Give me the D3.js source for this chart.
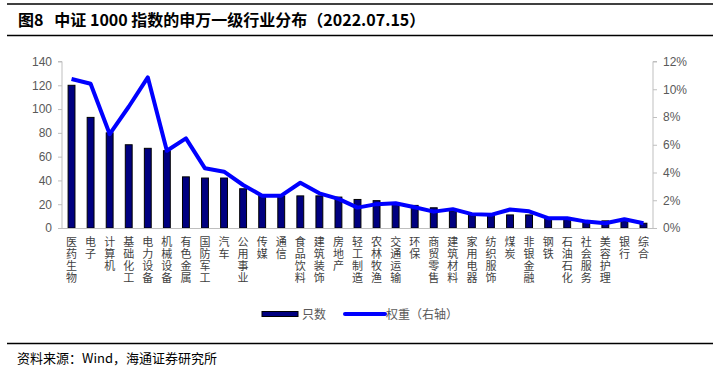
<!DOCTYPE html>
<html>
<head>
<meta charset="utf-8">
<script src="https://cdn.jsdelivr.net/npm/d3@7/dist/d3.min.js"></script>
<style>
  html, body { margin: 0; padding: 0; background: #fff; }
  svg { display: block; }
  .vlab { writing-mode: vertical-rl; text-orientation: upright; }
</style>
</head>
<body>
<svg id="chart" width="717" height="372"></svg>
<script>
const categories = ["医药生物","电子","计算机","基础化工","电力设备","机械设备","有色金属","国防军工","汽车","公用事业","传媒","通信","食品饮料","建筑装饰","房地产","轻工制造","农林牧渔","交通运输","环保","商贸零售","建筑材料","家用电器","纺织服饰","煤炭","非银金融","钢铁","石油石化","社会服务","美容护理","银行","综合"];
const counts = [120,93,80,70,67,65,43,42,42,33,27,27,27,27,26,24,23,21,19,17,14,11,11,11,11,8,7,6,6,6,4];
const weights = [10.74,10.4,6.77,8.74,10.86,5.57,6.46,4.3,4.06,3.1,2.33,2.33,3.26,2.5,2.1,1.47,1.72,1.78,1.5,1.18,1.36,1.0,0.95,1.33,1.2,0.71,0.7,0.46,0.34,0.63,0.34];
const leftTicks = [0,20,40,60,80,100,120,140];
const rightTicks = [0,2,4,6,8,10,12];
const titleText = "图8   中证 1000 指数的申万一级行业分布（2022.07.15）";
const sourceText = "资料来源：Wind，海通证券研究所";
const legendLabels = ["只数", "权重（右轴）"];

const svg = d3.select("#chart");
const plotL = 62, plotR = 653, plotB = 228, plotT = 61.5;

const x = d3.scaleBand().domain(categories).range([plotL, plotR]).paddingInner(0.64).paddingOuter(0.32);
const yL = d3.scaleLinear().domain([0, 140]).range([plotB, plotT]);
const yR = d3.scaleLinear().domain([0, 12]).range([plotB, plotT]);

const axisColor = "#bfbfbf";
const labelColor = "#595959";
const sansFont = "Liberation Sans, Arial, sans-serif";
const cjkFont = "'Noto Sans CJK SC', sans-serif";

// Header lines and title
svg.append("line").attr("x1", 7).attr("x2", 713).attr("y1", 4).attr("y2", 4).attr("stroke", "#000").attr("stroke-width", 1.3);
svg.append("line").attr("x1", 7).attr("x2", 713).attr("y1", 35.5).attr("y2", 35.5).attr("stroke", "#000").attr("stroke-width", 1.3);
svg.append("text").attr("x", 18).attr("y", 25.5).attr("font-family", cjkFont)
  .attr("font-weight", "bold").attr("font-size", 16).attr("fill", "#000").attr("xml:space", "preserve").text(titleText);

// Left axis
const gL = svg.append("g").attr("transform", `translate(${plotL},0)`)
  .call(d3.axisLeft(yL).tickValues(leftTicks).tickSize(4).tickPadding(6));
gL.select(".domain").attr("stroke", axisColor).attr("d", `M-4,${yL(140)}H0V${plotB}`);
gL.selectAll(".tick line").attr("stroke", axisColor);
gL.selectAll(".tick text").attr("fill", labelColor).attr("font-size", 12).attr("font-family", sansFont);

// Right axis
const gR = svg.append("g").attr("transform", `translate(${plotR},0)`)
  .call(d3.axisRight(yR).tickValues(rightTicks).tickFormat(d => d + "%").tickSize(4).tickPadding(6));
gR.select(".domain").attr("stroke", axisColor).attr("d", `M4,${yR(12)}H0V${plotB}`);
gR.selectAll(".tick line").attr("stroke", axisColor);
gR.selectAll(".tick text").attr("fill", labelColor).attr("font-size", 12).attr("font-family", sansFont);

// Bars
svg.append("g").selectAll("rect").data(categories).join("rect")
  .attr("x", d => x(d))
  .attr("width", x.bandwidth())
  .attr("y", (d, i) => yL(counts[i]))
  .attr("height", (d, i) => plotB - yL(counts[i]))
  .attr("fill", "#000080")
  .attr("stroke", "#000")
  .attr("stroke-width", 1);

// Bottom axis line
svg.append("line").attr("x1", plotL).attr("x2", plotR).attr("y1", plotB + 0.5).attr("y2", plotB + 0.5)
  .attr("stroke", axisColor).attr("stroke-width", 1);

// Line series
const line = d3.line()
  .x((d, i) => x(categories[i]) + x.bandwidth() / 2)
  .y(d => yR(d));
svg.append("path").datum(weights).attr("d", line).attr("fill", "none")
  .attr("stroke", "#0000ff").attr("stroke-width", 4).attr("stroke-linejoin", "round");

// Vertical category labels
svg.append("g").selectAll("text").data(categories).join("text")
  .attr("class", "vlab")
  .attr("x", d => x(d) + x.bandwidth() / 2)
  .attr("y", 236)
  .attr("font-family", cjkFont).attr("font-size", 11).attr("fill", "#404040")
  .attr("letter-spacing", 1)
  .text(d => d);

// Legend
const lg = svg.append("g");
lg.append("rect").attr("x", 262).attr("y", 311.5).attr("width", 36).attr("height", 5)
  .attr("fill", "#000080").attr("stroke", "#000").attr("stroke-width", 1);
lg.append("text").attr("x", 302).attr("y", 318.5).attr("font-family", cjkFont).attr("font-size", 12)
  .attr("fill", labelColor).text(legendLabels[0]);
lg.append("line").attr("x1", 345).attr("x2", 385).attr("y1", 314).attr("y2", 314)
  .attr("stroke", "#0000ff").attr("stroke-width", 4).attr("stroke-linecap", "round");
lg.append("text").attr("x", 386).attr("y", 318.5).attr("font-family", cjkFont).attr("font-size", 12)
  .attr("fill", labelColor).text(legendLabels[1]);

// Footer
svg.append("line").attr("x1", 7).attr("x2", 713).attr("y1", 343.5).attr("y2", 343.5).attr("stroke", "#000").attr("stroke-width", 1.3);
svg.append("text").attr("x", 17).attr("y", 362.5).attr("font-family", cjkFont).attr("font-size", 13)
  .attr("fill", "#000").text(sourceText);
</script>
</body>
</html>
